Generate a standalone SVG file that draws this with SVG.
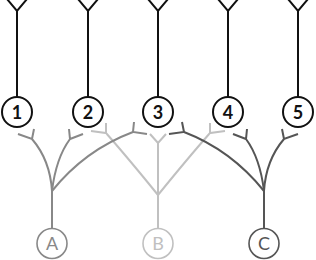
<svg xmlns="http://www.w3.org/2000/svg" width="316" height="260" viewBox="0 0 316 260">
<style>
.top{fill:none;stroke:#111;stroke-width:2}
.tc{fill:#fff;stroke:#111;stroke-width:2}
.tt{font-family:"Lato","Open Sans","Liberation Sans",sans-serif;font-size:18px;font-weight:700;fill:#111;text-anchor:middle}
.bt{font-family:"Lato","Open Sans","Liberation Sans",sans-serif;font-size:18px;font-weight:400;text-anchor:middle}
.a{fill:none;stroke:#888;stroke-width:2}
.b{fill:none;stroke:#c0c0c0;stroke-width:2}
.c{fill:none;stroke:#555;stroke-width:2}
</style>
<g id="connectors">
<g id="top-lines">
<path class="top" d="M7,-1 L17,11 L27,-1 M17,11 V97"/>
<path class="top" d="M78,-1 L88,11 L98,-1 M88,11 V97"/>
<path class="top" d="M148,-1 L158,11 L168,-1 M158,11 V97"/>
<path class="top" d="M218,-1 L228,11 L238,-1 M228,11 V97"/>
<path class="top" d="M288,-1 L298,11 L308,-1 M298,11 V97"/>
</g>
<g id="b-lines">
<path class="b" d="M158,229 V195 Q128,158 106,133 M91,131 L106,133 L106,123"/>
<path class="b" d="M158,195 V143 M150,134 L158,143 L166,134"/>
<path class="b" d="M158,195 Q188,158 210,133 M225,131 L210,133 L210,123"/>
</g>
<g id="a-lines">
<path class="a" d="M52,229 V191 Q50,160 32,139 M18,134 L32,139 L34,129"/>
<path class="a" d="M52,191 Q56,158 70,139 M69,129 L70,139 L83,134"/>
<path class="a" d="M52,191 Q85,150 133,132 M134,122 L133,132 L147,134"/>
</g>
<g id="c-lines">
<path class="c" d="M264,229 V191 Q266,160 284,139 M298,134 L284,139 L282,129"/>
<path class="c" d="M264,191 Q260,158 246,139 M247,129 L246,139 L233,134"/>
<path class="c" d="M264,191 Q231,150 184,132 M182,122 L184,132 L169,134"/>
</g>
</g>
<g id="node-1"><circle class="tc" cx="17" cy="112" r="15"/><text class="tt" x="17" y="118.5">1</text></g>
<g id="node-2"><circle class="tc" cx="88" cy="112" r="15"/><text class="tt" x="88" y="118.5">2</text></g>
<g id="node-3"><circle class="tc" cx="158" cy="112" r="15"/><text class="tt" x="158" y="118.5">3</text></g>
<g id="node-4"><circle class="tc" cx="228" cy="112" r="15"/><text class="tt" x="228" y="118.5">4</text></g>
<g id="node-5"><circle class="tc" cx="298" cy="112" r="15"/><text class="tt" x="298" y="118.5">5</text></g>
<g id="node-A"><circle cx="52" cy="243.5" r="15" fill="#fff" stroke="#888" stroke-width="1.6"/><text class="bt" x="52" y="250" fill="#888">A</text></g>
<g id="node-B"><circle cx="158" cy="243.5" r="15" fill="#fff" stroke="#c0c0c0" stroke-width="1.6"/><text class="bt" x="158" y="250" fill="#c0c0c0">B</text></g>
<g id="node-C"><circle cx="264" cy="243.5" r="15" fill="#fff" stroke="#555" stroke-width="1.6"/><text class="bt" x="264" y="250" fill="#555">C</text></g>
</svg>
